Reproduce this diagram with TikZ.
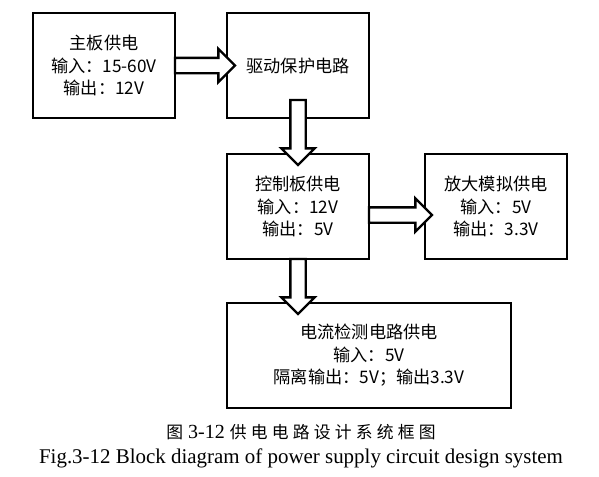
\documentclass[tikz,border=0pt]{standalone}
\usepackage{fontspec}
\setmainfont{Liberation Serif}
\newfontfamily\cjkfont{Noto Sans CJK SC}
\newfontfamily\capfont{Noto Sans CJK SC}[LetterSpace=25]
\usetikzlibrary{positioning,shapes.arrows}
\newlength\pxl
\setlength\pxl{0.75pt}

\tikzset{
	blk/.style={draw, line width=1.8pt, minimum width=142\pxl, minimum height=105\pxl,
		inner sep=0pt, outer sep=0pt, align=center,
		font=\cjkfont\fontsize{12.9}{16.9}\selectfont},
	fat/.style={single arrow, draw, fill=white, line width=1.8pt, inner sep=0pt, outer sep=0pt,
		text height=13\pxl, text depth=0pt, single arrow head extend=9\pxl,
		minimum height=60\pxl}
}

\begin{document}
\begin{tikzpicture}[x=\pxl,y=-\pxl]
	\useasboundingbox (0,0) rectangle (599,476);
	
	\node[blk] (main) at (104,65.5) {主板供电\\输入：15-60V\\输出：12V};
	\node[blk,right=52\pxl of main] (drv) {驱动保护电路};
	\node[blk,below=36\pxl of drv] (ctrl) {控制板供电\\输入：12V\\输出：5V};
	\node[blk,right=56\pxl of ctrl] (amp) {放大模拟供电\\输入：5V\\输出：3.3V};
	\node[blk,minimum width=284\pxl,below=44\pxl of ctrl.south west,anchor=north west] (cur)
		{电流检测电路供电\\输入：5V\\隔离输出：5V；输出3.3V};
	
	\node[fat,anchor=tail] (a1) at (main.east) {};
	\node[fat,rotate=-90,minimum height=65\pxl,anchor=tail] (a2) at ([yshift=18\pxl]drv.south) {};
	\node[fat,minimum height=63\pxl,anchor=tail] (a3) at ([yshift=-8.5\pxl]ctrl.east) {};
	\node[fat,rotate=-90,minimum height=55\pxl,anchor=tail] (a4) at (ctrl.south) {};
	
	\node[font=\fontsize{15}{17}\selectfont] (capzh) at (301,432)
		{{\capfont\fontsize{12.6}{14}\selectfont 图} 3-12 {\capfont\fontsize{12.6}{14}\selectfont 供电电路设计系统框图}};
	\node[font=\fontsize{15.7}{18}\selectfont] (capen) at (301,458)
		{Fig.3-12 Block diagram of power supply circuit design system};
\end{tikzpicture}
\end{document}
